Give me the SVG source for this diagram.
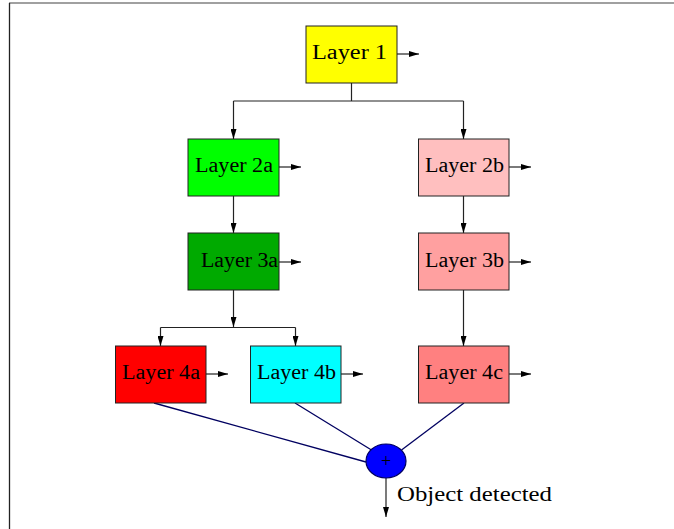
<svg xmlns="http://www.w3.org/2000/svg" width="674" height="529" viewBox="0 0 674 529">
<style>
.box{stroke:#222;stroke-width:1}
.lbl{font-family:"Liberation Serif","Times New Roman",serif;font-size:20px;fill:#000}
.ln{stroke:#222;stroke-width:1.2;fill:none}
.nv{stroke:#000060;stroke-width:1.3;fill:none}
</style>
<defs>
<marker id="ah" viewBox="0 0 10 6" refX="10" refY="3" markerWidth="10" markerHeight="6" markerUnits="userSpaceOnUse" orient="auto">
<path d="M0,0 L10,3 L0,6 Z" fill="#000"/>
</marker>
</defs>
<g id="frame">
<line x1="9" y1="3" x2="674" y2="3" stroke="#808080" stroke-width="1.5"/>
<line x1="9.5" y1="3" x2="9.5" y2="529" stroke="#222" stroke-width="1.3"/>
</g>
<g id="connectors">
<line class="ln" x1="397" y1="54" x2="419" y2="54" marker-end="url(#ah)"/>
<polyline class="ln" points="351.5,83 351.5,101"/>
<polyline class="ln" points="233.5,101 463.5,101"/>
<line class="ln" x1="233.5" y1="101" x2="233.5" y2="139" marker-end="url(#ah)"/>
<line class="ln" x1="463.5" y1="101" x2="463.5" y2="139" marker-end="url(#ah)"/>
<line class="ln" x1="279" y1="167" x2="301" y2="167" marker-end="url(#ah)"/>
<line class="ln" x1="509" y1="167" x2="531" y2="167" marker-end="url(#ah)"/>
<line class="ln" x1="233.5" y1="196" x2="233.5" y2="233" marker-end="url(#ah)"/>
<line class="ln" x1="463.5" y1="196" x2="463.5" y2="233" marker-end="url(#ah)"/>
<line class="ln" x1="279" y1="262" x2="301" y2="262" marker-end="url(#ah)"/>
<line class="ln" x1="509" y1="262" x2="531" y2="262" marker-end="url(#ah)"/>
<line class="ln" x1="233.5" y1="290" x2="233.5" y2="327" marker-end="url(#ah)"/>
<polyline class="ln" points="160.5,327.5 295.5,327.5"/>
<line class="ln" x1="160.5" y1="327.5" x2="160.5" y2="346" marker-end="url(#ah)"/>
<line class="ln" x1="295.5" y1="327.5" x2="295.5" y2="346" marker-end="url(#ah)"/>
<line class="ln" x1="463.5" y1="290" x2="463.5" y2="346" marker-end="url(#ah)"/>
<line class="ln" x1="206" y1="374" x2="228" y2="374" marker-end="url(#ah)"/>
<line class="ln" x1="341" y1="374" x2="363" y2="374" marker-end="url(#ah)"/>
<line class="ln" x1="509" y1="374" x2="531" y2="374" marker-end="url(#ah)"/>
<line class="nv" x1="154" y1="403" x2="366" y2="462"/>
<line class="nv" x1="295" y1="403" x2="371.5" y2="450"/>
<line class="nv" x1="464" y1="403" x2="401.5" y2="450"/>
<line class="ln" x1="386" y1="478" x2="386" y2="517" marker-end="url(#ah)"/>
</g>
<g id="layer1">
<rect class="box" x="306" y="26" width="91" height="57" fill="#ffff00"/>
<text class="lbl" x="312" y="59" textLength="75" lengthAdjust="spacingAndGlyphs">Layer 1</text>
</g>
<g id="layer2a">
<rect class="box" x="188" y="139" width="91" height="57" fill="#00ff00"/>
<text class="lbl" x="195" y="172" textLength="78" lengthAdjust="spacingAndGlyphs">Layer 2a</text>
</g>
<g id="layer3a">
<rect class="box" x="188" y="233" width="91" height="57" fill="#00aa00"/>
<text class="lbl" x="201" y="267" textLength="77" lengthAdjust="spacingAndGlyphs">Layer 3a</text>
</g>
<g id="layer2b">
<rect class="box" x="418.5" y="139" width="90.5" height="57" fill="#ffbfbf"/>
<text class="lbl" x="425" y="172" textLength="79" lengthAdjust="spacingAndGlyphs">Layer 2b</text>
</g>
<g id="layer3b">
<rect class="box" x="418.5" y="233" width="90.5" height="57" fill="#ffa0a0"/>
<text class="lbl" x="425" y="267" textLength="79" lengthAdjust="spacingAndGlyphs">Layer 3b</text>
</g>
<g id="layer4a">
<rect class="box" x="115.5" y="346" width="90.5" height="57" fill="#ff0000"/>
<text class="lbl" x="122" y="379" textLength="78" lengthAdjust="spacingAndGlyphs">Layer 4a</text>
</g>
<g id="layer4b">
<rect class="box" x="250.5" y="346" width="90.5" height="57" fill="#00ffff"/>
<text class="lbl" x="257" y="379" textLength="79" lengthAdjust="spacingAndGlyphs">Layer 4b</text>
</g>
<g id="layer4c">
<rect class="box" x="418.5" y="346" width="90.5" height="57" fill="#ff8080"/>
<text class="lbl" x="425" y="379" textLength="78" lengthAdjust="spacingAndGlyphs">Layer 4c</text>
</g>
<g id="sum">
<ellipse cx="386" cy="461" rx="20" ry="17" fill="#0000ff" stroke="#000060" stroke-width="1.2"/>
<text x="386" y="467" text-anchor="middle" font-family="Liberation Serif, Times New Roman, serif" font-size="18" fill="#000">+</text>
</g>
<g id="output-label">
<text class="lbl" x="397" y="501" textLength="155" lengthAdjust="spacingAndGlyphs">Object detected</text>
</g>
</svg>
